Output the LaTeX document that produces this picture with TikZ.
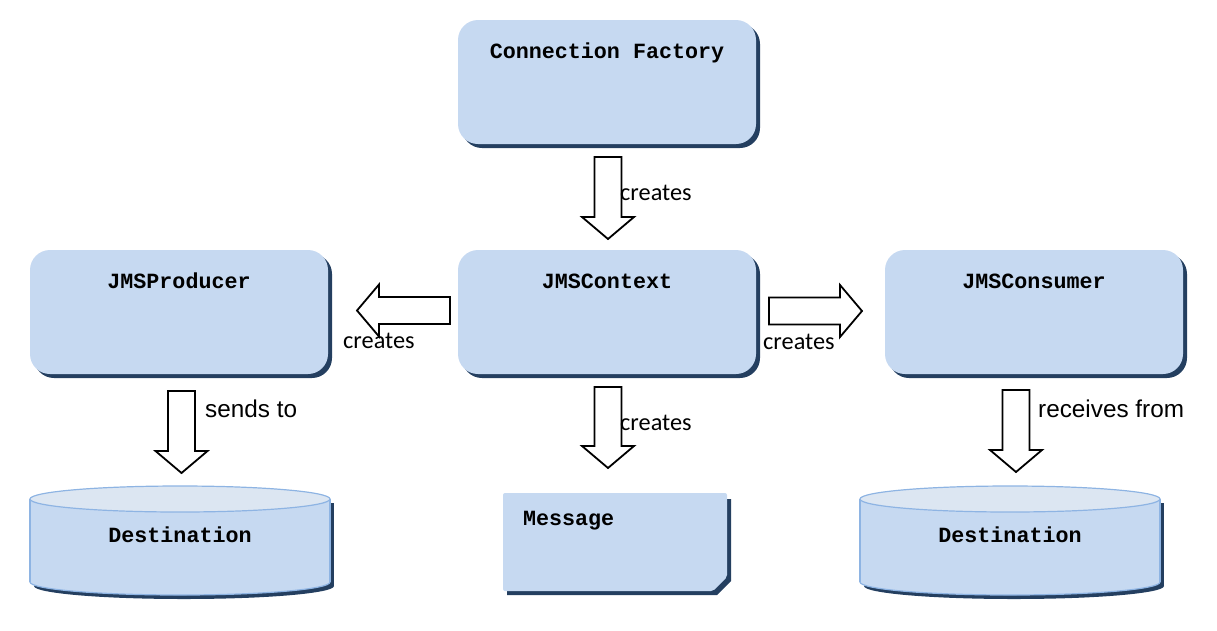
\documentclass[tikz,border=0pt]{standalone}
\usepackage{fontspec}
\newfontfamily\boxfont{Liberation Mono}
\newfontfamily\calfont{Carlito}
\newfontfamily\arialfont{Liberation Sans}
\usetikzlibrary{calc,shadows,backgrounds}

\definecolor{boxfill}{HTML}{C6D9F1}
\definecolor{boxshadow}{HTML}{243F60}
\definecolor{cyltop}{HTML}{DCE6F2}
\definecolor{cylline}{HTML}{8EB4E3}

% hollow block arrow from #1 to #2 (both coordinate expressions)
\newcommand\blockarrow[2]{%
  \coordinate (ba-s) at #1;
  \coordinate (ba-e) at #2;
  \coordinate (ba-h) at ($(ba-e)!22pt!(ba-s)$);
  \draw[barrow] ($(ba-s)!13.5pt!90:(ba-e)$) -- ($(ba-h)!13.5pt!90:(ba-e)$)
    -- ($(ba-h)!26pt!90:(ba-e)$) -- (ba-e) -- ($(ba-h)!26pt!-90:(ba-e)$)
    -- ($(ba-h)!13.5pt!-90:(ba-e)$) -- ($(ba-s)!13.5pt!-90:(ba-e)$) -- cycle;}

\begin{document}
\begin{tikzpicture}[x=1pt,y=-1pt,
  boxtext/.style={font=\boxfont\bfseries\fontsize{21.7pt}{26pt}\selectfont},
  classbox/.style={boxtext, rectangle, rounded corners=20pt, fill=boxfill,
    minimum width=298pt, minimum height=124pt, inner sep=0pt, outer sep=0pt,
    text height=38pt, text depth=86pt,
    general shadow={fill=boxshadow, shadow xshift=4pt, shadow yshift=-4pt}},
  msgbox/.style={boxtext, rectangle, minimum width=224pt, minimum height=98pt,
    inner sep=0pt, inner xsep=20pt, outer sep=0pt, text width=184pt, align=left,
    text height=32pt, text depth=66pt},
  cylbody/.style={boxtext, rectangle, minimum width=300pt, minimum height=83pt,
    inner sep=0pt, outer sep=0pt, text height=43pt, text depth=40pt},
  barrow/.style={draw=black, fill=white, line width=1.8pt, line join=miter},
  verb/.style={font=\calfont\fontsize{24.3pt}{28pt}\selectfont, inner sep=0pt, anchor=base west},
  verbs/.style={font=\arialfont\fontsize{24.3pt}{28pt}\selectfont, inner sep=0pt, anchor=base west},
]
\useasboundingbox (0,0) rectangle (1217,630);

% classes
\node[classbox] (cf)   at (607,82)  {Connection Factory};
\node[classbox] (prod) at (179,312) {JMSProducer};
\node[classbox] (ctx)  at (607,312) {JMSContext};
\node[classbox] (cons) at (1034,312) {JMSConsumer};

% message and destinations
\node[msgbox]  (msg)  at (615,542)    {Message};
\node[cylbody] (dst1) at (180,540.5)  {Destination};
\node[cylbody] (dst2) at (1010,540.5) {Destination};

\begin{pgfonlayer}{background}
  % message sheet with a cut corner
  \fill[boxshadow] ($(msg.north west)+(4,6)$) -- ($(msg.north east)+(4,6)$)
    -- ($(msg.south east)+(4,-10)$) -- ($(msg.south east)+(-10,4)$)
    -- ($(msg.south west)+(4,4)$) -- cycle;
  \fill[boxfill, rounded corners=2pt] (msg.north west) -- (msg.north east)
    -- ($(msg.south east)+(0,-14)$) -- ($(msg.south east)+(-14,0)$)
    -- (msg.south west) -- cycle;
  % destination cylinders
  \foreach \d in {dst1,dst2} {
    \fill[boxshadow] ($(\d.north west)+(4,4)$) rectangle ($(\d.south east)+(4,4)$);
    \fill[boxshadow] ($(\d.south)+(4,4)$) ellipse [x radius=150, y radius=13];
    \filldraw[fill=boxfill, draw=cylline, line width=1.2pt] (\d.south) ellipse [x radius=150, y radius=13];
    \fill[boxfill] (\d.north west) rectangle (\d.south east);
    \draw[cylline, line width=1.2pt] (\d.north west) -- (\d.south west)
      (\d.north east) -- (\d.south east);
    \filldraw[fill=cyltop, draw=cylline, line width=1.2pt] (\d.north) ellipse [x radius=150, y radius=13];
  }
\end{pgfonlayer}

% relations
\blockarrow{($(cf.south)+(1,13)$)}{($(ctx.north)+(1,-11)$)}
\blockarrow{($(ctx.west)+(-8,-1.5)$)}{($(prod.east)+(29,-1.5)$)}
\blockarrow{($(ctx.east)+(13,-1)$)}{($(cons.west)+(-23,-1)$)}
\blockarrow{($(ctx.south)+(1,13)$)}{($(ctx.south |- msg.north)+(1,-25)$)}
\blockarrow{($(prod.south)+(2.5,17)$)}{($(prod.south |- dst1.north)+(2.5,-26)$)}
\blockarrow{($(cons.south)+(-18,16)$)}{($(cons.south |- dst2.north)+(-18,-27)$)}

% relation labels
\node[verb]  (l-cf)   at (620,200)  {creates};
\node[verb]  (l-prod) at (343,348)  {creates};
\node[verb]  (l-cons) at (763,349)  {creates};
\node[verb]  (l-msg)  at (620,430)  {creates};
\node[verbs] (l-send) at (205,417)  {sends to};
\node[verbs] (l-recv) at (1038,417) {receives from};
\end{tikzpicture}
\end{document}
